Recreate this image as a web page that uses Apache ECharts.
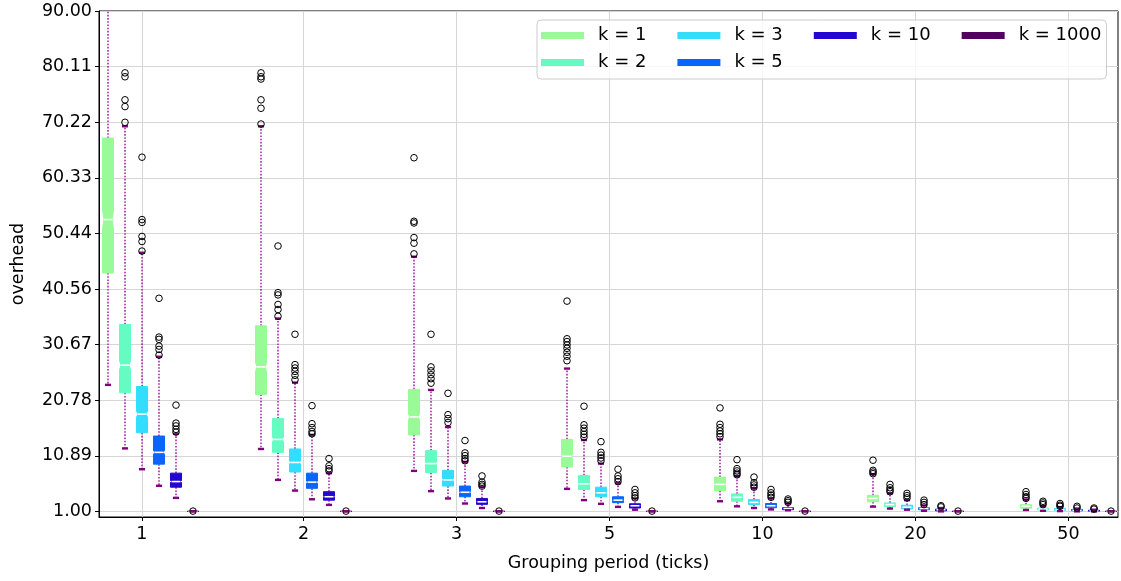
<!DOCTYPE html>
<html><head><meta charset="utf-8">
<script src="https://cdn.jsdelivr.net/npm/echarts@6/dist/echarts.min.js"></script>
<style>html,body{margin:0;padding:0;background:#fff}#c{width:1121px;height:581px}</style>
</head><body><div id="c"></div>
<script>
// ---------- DATA ----------
const groups = ['1', '2', '3', '5', '10', '20', '50'];
const seriesNames = ['k = 1', 'k = 2', 'k = 3', 'k = 5', 'k = 10', 'k = 1000'];
const yTickValues = [1.00, 10.89, 20.78, 30.67, 40.56, 50.44, 60.33, 70.22, 80.11, 90.00];
// tick positions on the group axis (group index units)
const xTickPositions = [-0.056, 1, 2, 3, 4, 5, 6];

// box statistics per group: [lower whisker, Q1, median, Q3, upper whisker]
const statsK1 = [
  [23.5, 43.4, 52.9, 67.4, 100.0],
  [12.1, 21.8, 26.7, 34.0, 69.5],
  [8.2, 14.6, 17.8, 22.7, 46.3],
  [5.0, 8.9, 10.8, 13.8, 26.4],
  [2.8, 4.7, 5.8, 7.1, 13.8],
  [1.85, 2.7, 3.3, 3.85, 7.6],
  [1.25, 1.55, 1.9, 2.2, 3.1]
];
const statsK2 = [
  [12.2, 22.1, 27.0, 34.25, 69.5],
  [6.6, 11.5, 13.8, 17.5, 35.3],
  [4.6, 7.9, 9.5, 11.8, 22.6],
  [3.0, 4.9, 5.9, 7.4, 13.7],
  [1.9, 2.8, 3.5, 4.1, 7.3],
  [1.5, 1.85, 2.2, 2.5, 4.2],
  [1.1, 1.25, 1.4, 1.6, 1.95]
];
const statsK3 = [
  [8.5, 15.0, 18.3, 23.2, 47.0],
  [4.7, 8.0, 9.7, 12.1, 23.9],
  [3.3, 5.5, 6.6, 8.3, 16.0],
  [2.35, 3.6, 4.3, 5.3, 9.5],
  [1.6, 2.2, 2.6, 3.1, 5.1],
  [1.3, 1.45, 1.75, 2.1, 3.0],
  [1.05, 1.2, 1.3, 1.5, 1.75]
];
const statsK5 = [
  [5.55, 9.4, 11.5, 14.4, 28.5],
  [3.15, 5.1, 6.2, 7.8, 14.6],
  [2.4, 3.6, 4.4, 5.5, 9.8],
  [1.8, 2.55, 3.0, 3.6, 6.0],
  [1.35, 1.65, 2.0, 2.4, 3.3],
  [1.1, 1.3, 1.5, 1.65, 2.05],
  [1.0, 1.1, 1.2, 1.35, 1.5]
];
const statsK10 = [
  [3.4, 5.3, 6.3, 7.8, 14.8],
  [2.15, 3.0, 3.6, 4.5, 7.8],
  [1.6, 2.25, 2.7, 3.3, 5.4],
  [1.3, 1.6, 2.0, 2.35, 3.3],
  [1.2, 1.3, 1.5, 1.65, 2.4],
  [1.0, 1.1, 1.3, 1.4, 1.6],
  [1.0, 1.05, 1.1, 1.2, 1.3]
];
const statsK1000 = [
  [1.0, 1.0, 1.0, 1.02, 1.02],
  [1.0, 1.0, 1.0, 1.02, 1.02],
  [1.0, 1.0, 1.0, 1.02, 1.02],
  [1.0, 1.0, 1.0, 1.02, 1.02],
  [1.0, 1.0, 1.0, 1.02, 1.02],
  [1.0, 1.0, 1.0, 1.02, 1.02],
  [1.0, 1.0, 1.0, 1.02, 1.02]
];

// outliers per group
const outliersK1 = [
  [],
  [79.0, 78.3, 77.9, 74.2, 72.7, 69.9],
  [63.9, 52.6, 52.3, 49.7, 48.7, 46.8],
  [38.4, 31.7, 31.2, 30.6, 30.0, 29.3, 28.6, 27.8],
  [19.4, 16.5, 15.9, 15.3, 14.8, 14.3],
  [10.1, 8.3, 8.0, 7.7],
  [4.5, 4.0, 3.6, 3.3]
];
const outliersK2 = [
  [79.0, 78.3, 74.2, 73.0, 70.2],
  [48.2, 39.9, 39.5, 37.8, 36.9, 35.7],
  [32.5, 26.7, 26.0, 25.3, 24.6, 23.8],
  [19.7, 16.4, 15.8, 15.2, 14.7, 14.2],
  [10.2, 8.6, 8.2, 7.8, 7.5],
  [5.8, 5.2, 4.8, 4.5],
  [2.8, 2.5, 2.2]
];
const outliersK3 = [
  [64.0, 52.9, 52.4, 49.9, 49.0, 47.3],
  [32.5, 27.1, 26.5, 25.9, 25.2, 24.4],
  [22.0, 18.2, 17.5, 16.8],
  [13.4, 11.5, 11.0, 10.5, 10.0],
  [7.1, 6.1, 5.7, 5.3],
  [4.2, 3.8, 3.4],
  [2.4, 2.1, 1.9]
];
const outliersK5 = [
  [38.9, 32.0, 31.6, 30.4, 29.8, 28.8],
  [19.8, 16.6, 15.9, 15.2, 14.8],
  [13.6, 11.4, 10.9, 10.4, 10.0],
  [8.5, 7.3, 6.8, 6.3],
  [4.9, 4.3, 3.9, 3.5],
  [3.0, 2.6, 2.2],
  [1.9, 1.6]
];
const outliersK10 = [
  [19.9, 16.7, 16.2, 15.6, 15.1],
  [10.4, 9.1, 8.6, 8.2],
  [7.3, 6.2, 5.8, 5.5],
  [4.9, 4.3, 3.8, 3.4],
  [3.2, 2.9, 2.6],
  [2.0, 1.8],
  [1.6, 1.4]
];
const outliersK1000 = [[1.05], [1.05], [1.05], [1.05], [1.05], [1.05], [1.05]];

// ---------- STYLE ----------
const seriesColors = ['#98fb98', '#64fcc2', '#33ddfe', '#0a66fb', '#2306cf', '#540063'];
const FONT = 'DejaVu Sans';
const allStats = [statsK1, statsK2, statsK3, statsK5, statsK10, statsK1000];
const allOutliers = [outliersK1, outliersK2, outliersK3, outliersK5, outliersK10, outliersK1000];
const notchFactor = 0.07;   // notch half-height relative to IQR
const notchInset = 0.13;    // notch depth relative to box width

function makeRender(k) {
  return function (params, api) {
    const gi = api.value(0);
    const lo = api.value(1), q1 = api.value(2), md = api.value(3), q3 = api.value(4), hi = api.value(5);
    const unit = api.size([1, 0])[0] / 9;
    const cx = api.coord([gi, 0])[0] + (k - 2.5) * unit;
    const w = unit * 0.65;
    const Y = v => api.coord([gi, v])[1];
    const cs = params.coordSys;
    const top = cs.y, bottom = cs.y + cs.height;
    const clampY = y => Math.max(top, Math.min(bottom, y));
    const notch = notchFactor * (q3 - q1);
    const L = cx - w / 2, R = cx + w / 2, iL = L + w * notchInset, iR = R - w * notchInset;
    const color = seriesColors[k];
    const children = [];
    const whiskerStyle = { stroke: '#a52aa5', lineWidth: 1.6, lineDash: [1.6, 1.6] };
    children.push({ type: 'line', shape: { x1: cx, y1: Y(q3), x2: cx, y2: clampY(Y(hi)) }, style: whiskerStyle });
    children.push({ type: 'line', shape: { x1: cx, y1: Y(q1), x2: cx, y2: clampY(Y(lo)) }, style: whiskerStyle });
    const pts = [
      [L, Y(q1)], [R, Y(q1)], [R, Y(md - notch)], [iR, Y(md)], [R, Y(md + notch)], [R, Y(q3)],
      [L, Y(q3)], [L, Y(md + notch)], [iL, Y(md)], [L, Y(md - notch)]
    ];
    children.push({ type: 'polygon', shape: { points: pts }, style: { fill: color, stroke: color, lineWidth: 1 } });
    children.push({ type: 'line', shape: { x1: L + 1, y1: Y(md), x2: R - 1, y2: Y(md) }, style: { stroke: '#ffffff', lineWidth: 1.6 } });
    const capW = unit * 0.36;
    const capStyle = { stroke: '#800080', lineWidth: 2.4 };
    [lo, hi].forEach(v => {
      const y = Y(v);
      if (y >= top && y <= bottom) {
        children.push({ type: 'line', shape: { x1: cx - capW / 2, y1: y, x2: cx + capW / 2, y2: y }, style: capStyle });
      }
    });
    const outs = allOutliers[k][params.dataIndex] || [];
    outs.forEach(v => {
      const y = Y(v);
      if (y >= top && y <= bottom) {
        children.push({ type: 'circle', shape: { cx: cx, cy: y, r: 3.3 }, style: { fill: 'none', stroke: '#000', lineWidth: 1 } });
      }
    });
    return { type: 'group', children: children };
  };
}

const series = seriesNames.map((name, k) => ({
  type: 'custom',
  name: name,
  itemStyle: { color: seriesColors[k] },
  data: groups.map((g, i) => [i].concat(allStats[k][i])),
  encode: { x: 0, y: [1, 2, 3, 4, 5] },
  renderItem: makeRender(k),
  silent: true,
  animation: false
}));

const legendOrder = ['k = 1', 'k = 3', 'k = 10', 'k = 1000', 'k = 2', 'k = 5'];

const chart = echarts.init(document.getElementById('c'), null, { renderer: 'canvas' });
chart.setOption({
  animation: false,
  backgroundColor: '#ffffff',
  textStyle: { fontFamily: FONT },
  grid: { left: 99, top: 11, right: 3, bottom: 64, show: true, borderColor: '#000', borderWidth: 1, containLabel: false },
  legend: {
    data: legendOrder.map(n => n === 'k = 1000'
      ? { name: n, textStyle: { padding: [0, 0, 0, 9] } }
      : { name: n }),
    left: 537, top: 20, width: 572,
    padding: [5, 5, 6, 4],
    itemGap: 6, itemWidth: 43, itemHeight: 7, icon: 'rect',
    borderColor: '#cccccc', borderWidth: 1, borderRadius: 4,
    backgroundColor: 'rgba(255,255,255,0.8)',
    selectedMode: false,
    textStyle: { fontFamily: FONT, fontSize: 18, color: '#000', padding: [0, 25, 0, 9], lineHeight: 21 }
  },
  xAxis: {
    type: 'value', min: -0.3366, max: 6.3235,
    name: 'Grouping period (ticks)', nameLocation: 'middle', nameGap: 37,
    nameTextStyle: { fontFamily: FONT, fontSize: 17.5, color: '#000' },
    axisLine: { show: true, onZero: false, lineStyle: { color: '#000', width: 1 } },
    axisTick: { show: true, length: 4, customValues: xTickPositions, lineStyle: { color: '#000' } },
    axisLabel: {
      customValues: xTickPositions, margin: 8, fontFamily: FONT, fontSize: 17.5, color: '#000',
      formatter: v => { const i = xTickPositions.indexOf(v); return i >= 0 ? groups[i] : ''; }
    },
    splitLine: { show: true, lineStyle: { color: '#d6d6d6', width: 1 } }
  },
  yAxis: {
    type: 'value', min: 0, max: 90,
    name: 'overhead', nameLocation: 'middle', nameGap: 72,
    nameTextStyle: { fontFamily: FONT, fontSize: 17.5, color: '#000' },
    axisLine: { show: true, onZero: false, lineStyle: { color: '#000', width: 1 } },
    axisTick: { show: true, length: 4, customValues: yTickValues, lineStyle: { color: '#000' } },
    axisLabel: {
      customValues: yTickValues, margin: 7, fontFamily: FONT, fontSize: 17.5, color: '#000',
      formatter: v => v.toFixed(2)
    },
    splitLine: { show: true, lineStyle: { color: '#d6d6d6', width: 1 } }
  },
  series: series
});
</script></body></html>
